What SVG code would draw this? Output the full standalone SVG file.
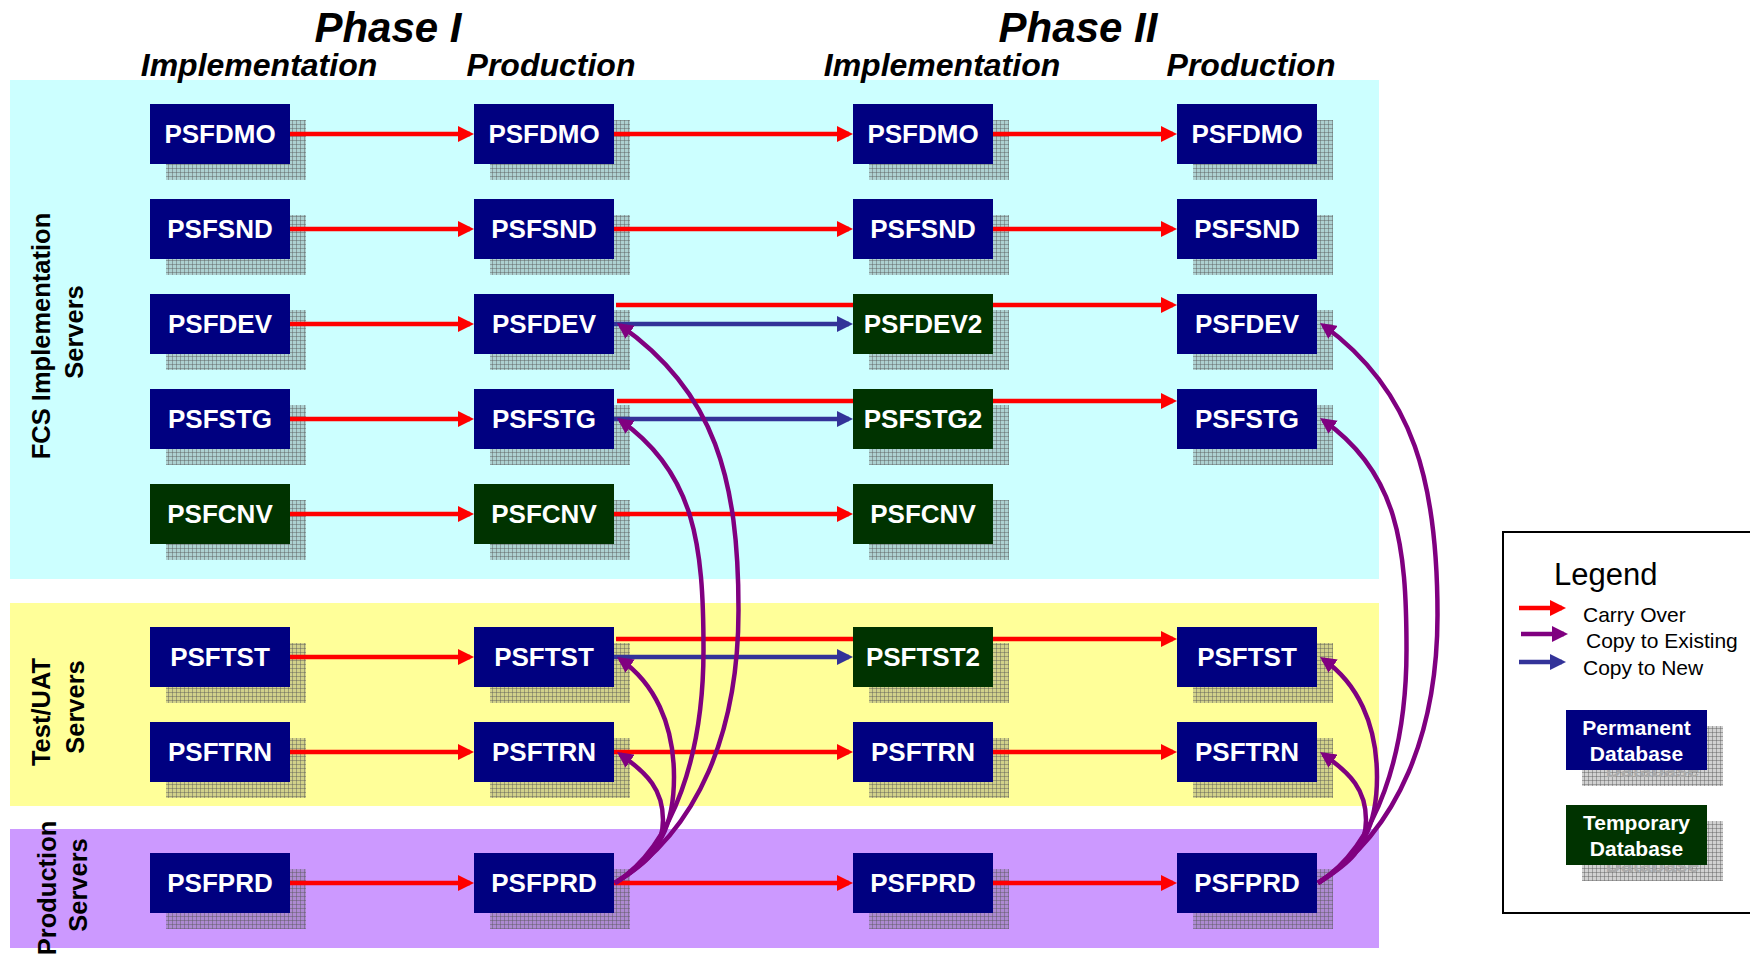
<svg xmlns="http://www.w3.org/2000/svg" width="1750" height="955" viewBox="0 0 1750 955">
<defs>
<style>
.hdr{font-family:"Liberation Sans",Arial,sans-serif;font-weight:bold;font-style:italic;fill:#000;text-anchor:middle}
.side{font-family:"Liberation Sans",Arial,sans-serif;font-weight:bold;font-size:25.5px;fill:#000;text-anchor:middle}
.lbl{font-family:"Liberation Sans",Arial,sans-serif;font-weight:bold;font-size:26px;fill:#fff;text-anchor:middle}
.perm{fill:#000080}
.temp{fill:#003300}
.shd{fill:url(#mesh)}
.red{stroke:#FF0000;stroke-width:4.5;fill:none;marker-end:url(#ar)}
.redn{stroke:#FF0000;stroke-width:4.5;fill:none}
.blue{stroke:#333399;stroke-width:4.5;fill:none;marker-end:url(#ab)}
.pur{stroke:#800080;stroke-width:4.5;fill:none;marker-end:url(#ap)}
.leg{font-family:"Liberation Sans",Arial,sans-serif;font-size:21px;fill:#000}
.legt{font-family:"Liberation Sans",Arial,sans-serif;font-size:31px;fill:#000}
.legb{font-family:"Liberation Sans",Arial,sans-serif;font-weight:bold;font-size:21px;fill:#fff;text-anchor:middle}
.legg{font-family:"Liberation Sans",Arial,sans-serif;font-weight:bold;font-size:21px;fill:#aaa;text-anchor:middle}
</style>
<pattern id="mesh" width="4" height="4" patternUnits="userSpaceOnUse">
<rect width="4" height="4" fill="#666" fill-opacity="0.3"/>
<path d="M0 0.5H4M0.5 0V4" stroke="#555" stroke-opacity="0.42" stroke-width="1"/>
</pattern>
<marker id="ar" markerWidth="16" markerHeight="16" refX="12" refY="8" orient="auto" markerUnits="userSpaceOnUse"><path d="M0,0 L16,8 L0,16 z" fill="#FF0000"/></marker>
<marker id="ab" markerWidth="16" markerHeight="16" refX="12" refY="8" orient="auto" markerUnits="userSpaceOnUse"><path d="M0,0 L16,8 L0,16 z" fill="#333399"/></marker>
<marker id="ap" markerWidth="16" markerHeight="16" refX="12" refY="8" orient="auto" markerUnits="userSpaceOnUse"><path d="M0,0 L16,8 L0,16 z" fill="#800080"/></marker>
</defs>
<rect width="1750" height="955" fill="#fff"/>
<g id="bands">
<rect x="10" y="80" width="1369" height="499" fill="#CCFFFF"/>
<rect x="10" y="603" width="1369" height="203" fill="#FFFF99"/>
<rect x="10" y="829" width="1369" height="119" fill="#CC99FF"/>
</g>
<g id="headers">
<text class="hdr" x="388" y="42" font-size="42">Phase I</text>
<text class="hdr" x="1078" y="42" font-size="42">Phase II</text>
<text class="hdr" x="259" y="76" font-size="32">Implementation</text>
<text class="hdr" x="551" y="76" font-size="32">Production</text>
<text class="hdr" x="942" y="76" font-size="32">Implementation</text>
<text class="hdr" x="1251" y="76" font-size="32">Production</text>
</g>
<g id="side-labels">
<text class="side" transform="translate(50,336) rotate(-90)">FCS Implementation</text>
<text class="side" transform="translate(83,332) rotate(-90)">Servers</text>
<text class="side" transform="translate(50,712) rotate(-90)">Test/UAT</text>
<text class="side" transform="translate(84,707) rotate(-90)">Servers</text>
<text class="side" transform="translate(56,888) rotate(-90)">Production</text>
<text class="side" transform="translate(87,885) rotate(-90)">Servers</text>
</g>
<g id="n-dmo-1"><rect class="shd" x="166" y="120" width="140" height="60"/><rect class="perm" x="150" y="104" width="140" height="60"/><text class="lbl" x="220" y="143">PSFDMO</text></g>
<g id="n-dmo-2"><rect class="shd" x="490" y="120" width="140" height="60"/><rect class="perm" x="474" y="104" width="140" height="60"/><text class="lbl" x="544" y="143">PSFDMO</text></g>
<g id="n-dmo-3"><rect class="shd" x="869" y="120" width="140" height="60"/><rect class="perm" x="853" y="104" width="140" height="60"/><text class="lbl" x="923" y="143">PSFDMO</text></g>
<g id="n-dmo-4"><rect class="shd" x="1193" y="120" width="140" height="60"/><rect class="perm" x="1177" y="104" width="140" height="60"/><text class="lbl" x="1247" y="143">PSFDMO</text></g>
<g id="n-snd-1"><rect class="shd" x="166" y="215" width="140" height="60"/><rect class="perm" x="150" y="199" width="140" height="60"/><text class="lbl" x="220" y="238">PSFSND</text></g>
<g id="n-snd-2"><rect class="shd" x="490" y="215" width="140" height="60"/><rect class="perm" x="474" y="199" width="140" height="60"/><text class="lbl" x="544" y="238">PSFSND</text></g>
<g id="n-snd-3"><rect class="shd" x="869" y="215" width="140" height="60"/><rect class="perm" x="853" y="199" width="140" height="60"/><text class="lbl" x="923" y="238">PSFSND</text></g>
<g id="n-snd-4"><rect class="shd" x="1193" y="215" width="140" height="60"/><rect class="perm" x="1177" y="199" width="140" height="60"/><text class="lbl" x="1247" y="238">PSFSND</text></g>
<g id="n-dev-1"><rect class="shd" x="166" y="310" width="140" height="60"/><rect class="perm" x="150" y="294" width="140" height="60"/><text class="lbl" x="220" y="333">PSFDEV</text></g>
<g id="n-dev-2"><rect class="shd" x="490" y="310" width="140" height="60"/><rect class="perm" x="474" y="294" width="140" height="60"/><text class="lbl" x="544" y="333">PSFDEV</text></g>
<g id="n-dev2-3"><rect class="shd" x="869" y="310" width="140" height="60"/><rect class="temp" x="853" y="294" width="140" height="60"/><text class="lbl" x="923" y="333">PSFDEV2</text></g>
<g id="n-dev-4"><rect class="shd" x="1193" y="310" width="140" height="60"/><rect class="perm" x="1177" y="294" width="140" height="60"/><text class="lbl" x="1247" y="333">PSFDEV</text></g>
<g id="n-stg-1"><rect class="shd" x="166" y="405" width="140" height="60"/><rect class="perm" x="150" y="389" width="140" height="60"/><text class="lbl" x="220" y="428">PSFSTG</text></g>
<g id="n-stg-2"><rect class="shd" x="490" y="405" width="140" height="60"/><rect class="perm" x="474" y="389" width="140" height="60"/><text class="lbl" x="544" y="428">PSFSTG</text></g>
<g id="n-stg2-3"><rect class="shd" x="869" y="405" width="140" height="60"/><rect class="temp" x="853" y="389" width="140" height="60"/><text class="lbl" x="923" y="428">PSFSTG2</text></g>
<g id="n-stg-4"><rect class="shd" x="1193" y="405" width="140" height="60"/><rect class="perm" x="1177" y="389" width="140" height="60"/><text class="lbl" x="1247" y="428">PSFSTG</text></g>
<g id="n-cnv-1"><rect class="shd" x="166" y="500" width="140" height="60"/><rect class="temp" x="150" y="484" width="140" height="60"/><text class="lbl" x="220" y="523">PSFCNV</text></g>
<g id="n-cnv-2"><rect class="shd" x="490" y="500" width="140" height="60"/><rect class="temp" x="474" y="484" width="140" height="60"/><text class="lbl" x="544" y="523">PSFCNV</text></g>
<g id="n-cnv-3"><rect class="shd" x="869" y="500" width="140" height="60"/><rect class="temp" x="853" y="484" width="140" height="60"/><text class="lbl" x="923" y="523">PSFCNV</text></g>
<g id="n-tst-1"><rect class="shd" x="166" y="643" width="140" height="60"/><rect class="perm" x="150" y="627" width="140" height="60"/><text class="lbl" x="220" y="666">PSFTST</text></g>
<g id="n-tst-2"><rect class="shd" x="490" y="643" width="140" height="60"/><rect class="perm" x="474" y="627" width="140" height="60"/><text class="lbl" x="544" y="666">PSFTST</text></g>
<g id="n-tst2-3"><rect class="shd" x="869" y="643" width="140" height="60"/><rect class="temp" x="853" y="627" width="140" height="60"/><text class="lbl" x="923" y="666">PSFTST2</text></g>
<g id="n-tst-4"><rect class="shd" x="1193" y="643" width="140" height="60"/><rect class="perm" x="1177" y="627" width="140" height="60"/><text class="lbl" x="1247" y="666">PSFTST</text></g>
<g id="n-trn-1"><rect class="shd" x="166" y="738" width="140" height="60"/><rect class="perm" x="150" y="722" width="140" height="60"/><text class="lbl" x="220" y="761">PSFTRN</text></g>
<g id="n-trn-2"><rect class="shd" x="490" y="738" width="140" height="60"/><rect class="perm" x="474" y="722" width="140" height="60"/><text class="lbl" x="544" y="761">PSFTRN</text></g>
<g id="n-trn-3"><rect class="shd" x="869" y="738" width="140" height="60"/><rect class="perm" x="853" y="722" width="140" height="60"/><text class="lbl" x="923" y="761">PSFTRN</text></g>
<g id="n-trn-4"><rect class="shd" x="1193" y="738" width="140" height="60"/><rect class="perm" x="1177" y="722" width="140" height="60"/><text class="lbl" x="1247" y="761">PSFTRN</text></g>
<g id="n-prd-1"><rect class="shd" x="166" y="869" width="140" height="60"/><rect class="perm" x="150" y="853" width="140" height="60"/><text class="lbl" x="220" y="892">PSFPRD</text></g>
<g id="n-prd-2"><rect class="shd" x="490" y="869" width="140" height="60"/><rect class="perm" x="474" y="853" width="140" height="60"/><text class="lbl" x="544" y="892">PSFPRD</text></g>
<g id="n-prd-3"><rect class="shd" x="869" y="869" width="140" height="60"/><rect class="perm" x="853" y="853" width="140" height="60"/><text class="lbl" x="923" y="892">PSFPRD</text></g>
<g id="n-prd-4"><rect class="shd" x="1193" y="869" width="140" height="60"/><rect class="perm" x="1177" y="853" width="140" height="60"/><text class="lbl" x="1247" y="892">PSFPRD</text></g>
<g id="connectors">
<path class="red" d="M290 134H470"/>
<path class="red" d="M614 134H849"/>
<path class="red" d="M993 134H1173"/>
<path class="red" d="M290 229H470"/>
<path class="red" d="M614 229H849"/>
<path class="red" d="M993 229H1173"/>
<path class="red" d="M290 324H470"/>
<path class="redn" d="M616 305H853"/>
<path class="red" d="M993 305H1173"/>
<path class="blue" d="M614 324H849"/>
<path class="red" d="M290 419H470"/>
<path class="redn" d="M617 401H853"/>
<path class="red" d="M993 401H1173"/>
<path class="blue" d="M614 419H849"/>
<path class="red" d="M290 514H470"/>
<path class="red" d="M614 514H849"/>
<path class="red" d="M290 657H470"/>
<path class="redn" d="M616 639H853"/>
<path class="red" d="M993 639H1173"/>
<path class="blue" d="M614 657H849"/>
<path class="red" d="M290 752H470"/>
<path class="red" d="M614 752H849"/>
<path class="red" d="M993 752H1173"/>
<path class="red" d="M290 883H470"/>
<path class="red" d="M614 883H849"/>
<path class="red" d="M993 883H1173"/>
<path class="pur" d="M615,883 C699.8,830 738.5,730 738.5,610 C738.5,480 715.3,391.8 620.3,325.3"/>
<path class="pur" d="M615,883 C674.4,845.9 703.5,752 703.5,650 C703.5,545 694.8,472.5 620.3,420.3"/>
<path class="pur" d="M615,883 C661.6,853.9 674,824 674,777 C674,723 653.9,682.8 620.3,659.3"/>
<path class="pur" d="M615,883 C648.9,861.8 663,848 663,820 C663,790 648.1,773.8 620.3,754.3"/>
<path class="pur" d="M1318,883 C1400,830 1437.5,730 1437.5,615 C1437.5,485 1415,391.8 1323.3,325.3"/>
<path class="pur" d="M1318,883 C1377.4,845.9 1406.5,752 1406.5,650 C1406.5,545 1397.8,472.5 1323.3,420.3"/>
<path class="pur" d="M1318,883 C1364.6,853.9 1377,824 1377,777 C1377,723 1356.9,682.8 1323.3,659.3"/>
<path class="pur" d="M1318,883 C1351.9,861.8 1366,848 1366,820 C1366,790 1351.1,773.8 1323.3,754.3"/>
</g>
<g id="legend">
<rect x="1503" y="532" width="260" height="381" fill="#fff" stroke="#000" stroke-width="2"/>
<text class="legt" x="1554" y="585">Legend</text>
<path class="red" d="M1519 608H1562"/>
<path class="pur" d="M1521 634H1564"/>
<path class="blue" d="M1519 662H1562"/>
<text class="leg" x="1583" y="622">Carry Over</text>
<text class="leg" x="1586" y="648">Copy to Existing</text>
<text class="leg" x="1583" y="675">Copy to New</text>
<g id="legend-permanent">
<rect class="shd" x="1582" y="726" width="141" height="60"/>
<text class="legg" x="1652.5" y="777">Database</text>
<rect class="perm" x="1566" y="710" width="141" height="60"/>
<text class="legb" x="1636.5" y="735">Permanent</text>
<text class="legb" x="1636.5" y="761">Database</text>
</g>
<g id="legend-temporary">
<rect class="shd" x="1582" y="821" width="141" height="60"/>
<text class="legg" x="1652.5" y="872">Database</text>
<rect class="temp" x="1566" y="805" width="141" height="60"/>
<text class="legb" x="1636.5" y="830">Temporary</text>
<text class="legb" x="1636.5" y="856">Database</text>
</g>
</g>
</svg>
